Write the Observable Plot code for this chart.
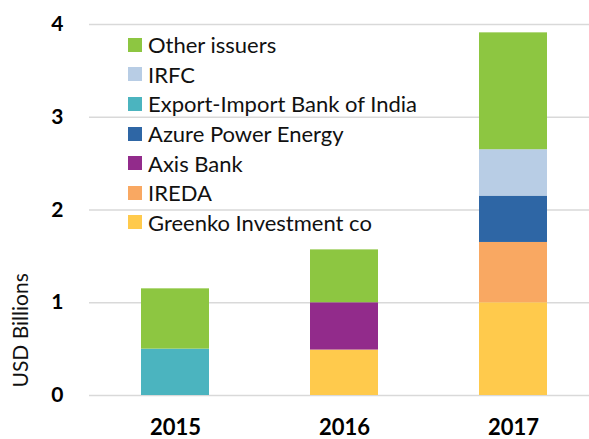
<!DOCTYPE html>
<html>
<head>
<meta charset="utf-8">
<script src="https://cdn.jsdelivr.net/npm/d3@7"></script>
<script src="https://cdn.jsdelivr.net/npm/@observablehq/plot@0.6"></script>
<style>
  body { margin: 0; background: #fff; }
  #wrap { position: relative; width: 589px; height: 439px; font-family: Lato, "Open Sans", sans-serif; }
  #legend { position: absolute; left: 128px; top: 30px; }
  .item { display: flex; align-items: center; height: 29.6px; font-size: 22px; color: #111; white-space: nowrap; }
  .sw { width: 14px; height: 14px; margin-right: 6px; flex: none; }
</style>
</head>
<body>
<div id="wrap"></div>
<script>
const years = ["2015", "2016", "2017"];
const issuers = ["Greenko Investment co", "IREDA", "Axis Bank", "Azure Power Energy", "Export-Import Bank of India", "IRFC", "Other issuers"];
const colors = ["#FFCA4C", "#F9A862", "#922B8B", "#2E66A5", "#4BB4BF", "#B8CDE5", "#8DC641"];
// values per issuer, by year (USD billions)
const greenko = [0, 0.49, 1.0];
const ireda = [0, 0, 0.65];
const axis = [0, 0.51, 0];
const azure = [0, 0, 0.50];
const exim = [0.50, 0, 0];
const irfc = [0, 0, 0.50];
const other = [0.65, 0.57, 1.26];
const series = [greenko, ireda, axis, azure, exim, irfc, other];
const yTicks = [0, 1, 2, 3, 4];

const data = [];
issuers.forEach((iss, i) => years.forEach((yr, j) => {
  if (series[i][j] > 0) data.push({issuer: iss, year: yr, value: series[i][j]});
}));

const chart = Plot.plot({
  width: 589,
  height: 439,
  marginLeft: 89,
  marginRight: 0,
  marginTop: 24,
  marginBottom: 44,
  style: {fontFamily: "Lato, 'Open Sans', sans-serif", color: "#000", background: "#fff"},
  x: {domain: years, paddingInner: 0.6, paddingOuter: 0.2706, align: 0.554},
  y: {domain: [0, 4]},
  color: {domain: issuers, range: colors},
  marks: [
    Plot.ruleY(yTicks, {stroke: "#d9d9d9", strokeWidth: 1.5}),
    Plot.barY(data, {x: "year", y: "value", fill: "issuer", order: issuers}),
    Plot.axisX({tickSize: 0, tickPadding: 24, fontSize: 22, fontWeight: "bold", label: null}),
    Plot.axisY({ticks: yTicks, tickSize: 0, tickPadding: 26, fontSize: 21, fontWeight: "bold", label: null, tickFormat: d3.format("d")}),
    Plot.text(["USD Billions"], {frameAnchor: "bottom-left", rotate: -90, textAnchor: "start", dx: -62, dy: -8, fontSize: 21, fill: "#111"})
  ]
});

const wrap = document.getElementById("wrap");
wrap.appendChild(chart);
const legend = document.createElement("div");
legend.id = "legend";
issuers.slice().reverse().forEach(name => {
  const row = document.createElement("div");
  row.className = "item";
  const sw = document.createElement("span");
  sw.className = "sw";
  sw.style.background = colors[issuers.indexOf(name)];
  row.appendChild(sw);
  row.appendChild(document.createTextNode(name));
  legend.appendChild(row);
});
wrap.appendChild(legend);
</script>
</body>
</html>
